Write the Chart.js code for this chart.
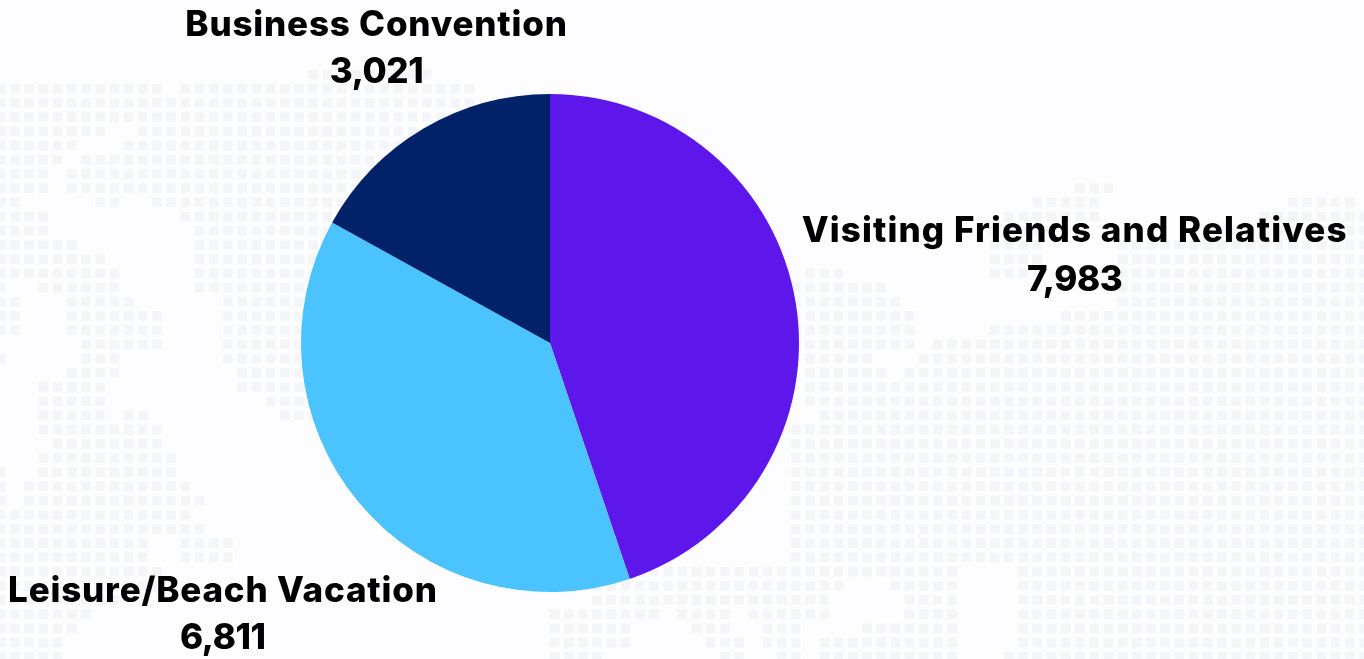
<!DOCTYPE html>
<html>
<head>
<meta charset="utf-8">
<title>Visitors by trip purpose</title>
<script src="https://cdn.jsdelivr.net/npm/chart.js@4"></script>
<style>
    html, body { margin: 0; padding: 0; background: #fdfdff; overflow: hidden; }
    #wrap { position: relative; width: 1364px; height: 659px; }
</style>
</head>
<body>
<div id="wrap"><canvas id="purposeChart"></canvas></div>
<script>
const categories = ['Visiting Friends and Relatives', 'Leisure/Beach Vacation', 'Business Convention'];
const visitors = [7983, 6811, 3021];
const sliceColors = ['#5e17eb', '#4ac3ff', '#012169'];

// label offset from the outer middle of each slice, first line baseline
const labelOffsets = [[279, -61], [-136, 99], [-47, -93]];
// distance between name and value line, letter spacing of the name
const labelGaps = [49, 47, 47];
const labelSpacing = ['1.1px', '0.8px', '0.8px'];

// faint world map behind the chart: [first column, last column] runs per row
const mapRows = [
    [[22, 30]],
    [[0, 11], [13, 33]],
    [[0, 33]],
    [[0, 33]],
    [[0, 7], [10, 33]],
    [[0, 5], [9, 32]],
    [[0, 4], [6, 32]],
    [[0, 3], [5, 32]],
    [[0, 3], [5, 32], [76, 78]],
    [[0, 1], [7, 8], [11, 32], [73, 77], [91, 95]],
    [[0, 3], [13, 32], [71, 77], [89, 96]],
    [[0, 3], [14, 32], [70, 76], [85, 96]],
    [[0, 5], [14, 32], [70, 73], [79, 96]],
    [[0, 7], [14, 32], [70, 73], [79, 96]],
    [[0, 8], [14, 32], [57, 59], [70, 73], [79, 96]],
    [[0, 0], [3, 8], [14, 32], [56, 62], [79, 96]],
    [[0, 1], [5, 9], [16, 32], [56, 63], [79, 96]],
    [[0, 1], [5, 11], [16, 32], [56, 64], [75, 96]],
    [[0, 1], [5, 11], [16, 32], [56, 64], [70, 96]],
    [[6, 11], [16, 32], [56, 64], [66, 96]],
    [[0, 0], [6, 8], [16, 32], [57, 61], [65, 96]],
    [[5, 8], [17, 32], [57, 62], [64, 96]],
    [[3, 7], [17, 32], [57, 96]],
    [[3, 7], [19, 32], [57, 96]],
    [[3, 7], [9, 10], [20, 32], [58, 96]],
    [[3, 11], [56, 96]],
    [[4, 11], [56, 96]],
    [[3, 12], [56, 96]],
    [[0, 0], [3, 12], [56, 96]],
    [[0, 0], [2, 13], [56, 96]],
    [[0, 0], [2, 14], [56, 96]],
    [[0, 13], [56, 96]],
    [[0, 14], [56, 96]],
    [[0, 10], [13, 16], [56, 96]],
    [[0, 10], [13, 16], [56, 96]],
    [[0, 11], [40, 67], [72, 96]],
    [[0, 11], [40, 59], [63, 67], [72, 96]],
    [[0, 8], [42, 58], [64, 67], [72, 96]],
    [[0, 6], [39, 46], [48, 51], [53, 58], [64, 67], [72, 96]],
    [[0, 5], [39, 44], [49, 51], [54, 56], [61, 67], [72, 96]],
    [[0, 4], [39, 44], [50, 52], [54, 56], [58, 67], [72, 96]],
    [[0, 4], [39, 42], [51, 52], [55, 56], [58, 67], [71, 96]]
];

const mapBackground = {
    id: 'mapBackground',
    beforeDraw(chart) {
        const ctx = chart.ctx;
        ctx.save();
        ctx.fillStyle = '#fdfdff';
        ctx.fillRect(0, 0, chart.width, chart.height);
        ctx.fillStyle = '#f4f5f9';
        mapRows.forEach(function (runs, r) {
            runs.forEach(function (run) {
                for (let c = run[0]; c <= run[1]; c++) {
                    ctx.fillRect(-4 + c * 14.2, 69.8 + r * 14.2, 9.5, 9.5);
                }
            });
        });
        ctx.restore();
    }
};

const sliceLabels = {
    id: 'sliceLabels',
    afterDatasetsDraw(chart) {
        const ctx = chart.ctx;
        ctx.save();
        ctx.font = '800 35px Inter, "Open Sans", sans-serif';
        ctx.fillStyle = '#000000';
        ctx.textAlign = 'center';
        ctx.textBaseline = 'alphabetic';
        chart.getDatasetMeta(0).data.forEach(function (arc, i) {
            const mid = (arc.startAngle + arc.endAngle) / 2;
            const x = arc.x + Math.cos(mid) * arc.outerRadius + labelOffsets[i][0];
            const y = arc.y + Math.sin(mid) * arc.outerRadius + labelOffsets[i][1];
            ctx.letterSpacing = labelSpacing[i];
            ctx.fillText(categories[i], x, y);
            ctx.letterSpacing = '-0.4px';
            ctx.fillText(visitors[i].toLocaleString('en-US'), x, y + labelGaps[i]);
        });
        ctx.restore();
    }
};

new Chart(document.getElementById('purposeChart').getContext('2d'), {
    type: 'pie',
    data: {
        labels: categories,
        datasets: [{
            data: visitors,
            backgroundColor: sliceColors,
            borderWidth: 0
        }]
    },
    options: {
        responsive: true,
        maintainAspectRatio: false,
        animation: false,
        layout: { padding: { left: 301, right: 565, top: 94, bottom: 67 } },
        plugins: {
            legend: { display: false },
            title: { display: false },
            tooltip: { enabled: false }
        }
    },
    plugins: [mapBackground, sliceLabels]
});
</script>
</body>
</html>
